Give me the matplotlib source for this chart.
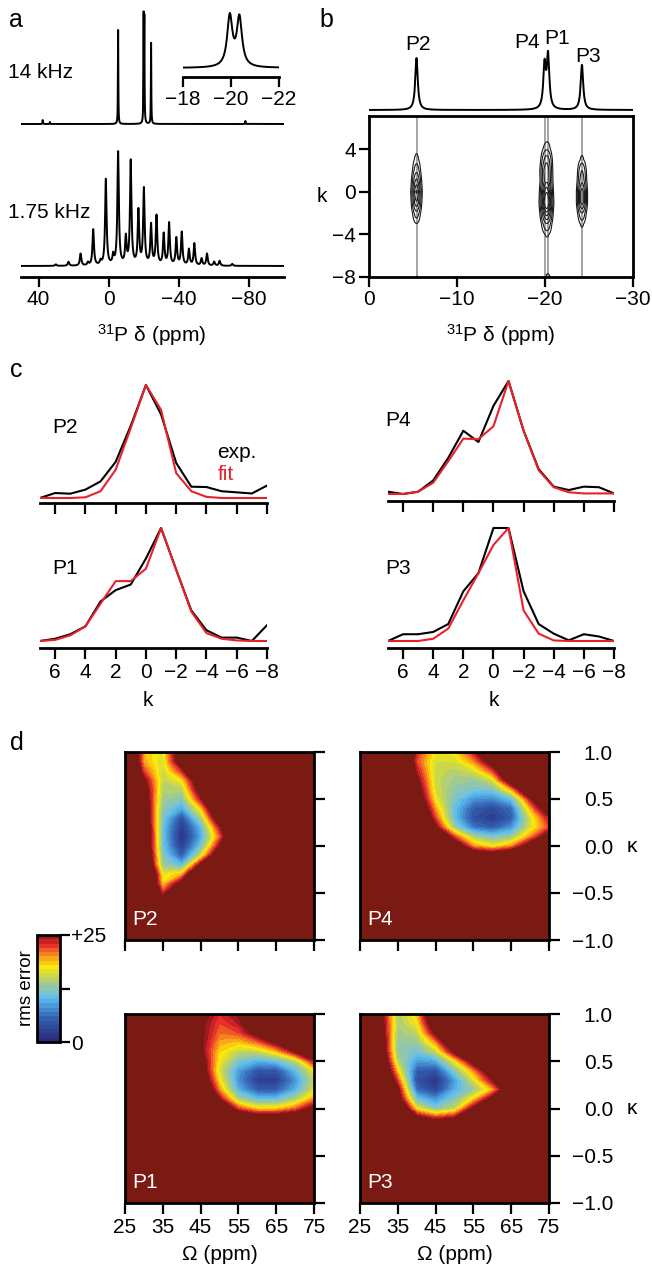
import numpy as np
import matplotlib
matplotlib.use("Agg")
import matplotlib.pyplot as plt
from matplotlib.colors import ListedColormap, BoundaryNorm
from matplotlib.cm import ScalarMappable
from matplotlib.ticker import NullLocator

plt.rcParams['font.family'] = ['Liberation Sans', 'DejaVu Sans']
plt.rcParams['mathtext.fontset'] = 'custom'
plt.rcParams['mathtext.rm'] = 'Liberation Sans'
plt.rcParams['mathtext.it'] = 'Liberation Sans:italic'
plt.rcParams['mathtext.bf'] = 'Liberation Sans:bold'

W, H = 652, 1273
FS = 15

# ---------------------------------------------------------------- data
site_names = ['P2', 'P4', 'P1', 'P3']
site_shift = [-5.4, -19.95, -20.35, -24.2]          # ppm

# 14 kHz MAS spectrum: line positions (ppm) and intensities
fast_peak_ppm = [37.6, 33.5, -5.4, -19.95, -20.35, -24.2, -78.0]
fast_peak_int = [4, 2, 94, 103, 100, 81, 3]

# 1.75 kHz MAS spectrum (centre bands + spinning sidebands)
slow_peak_ppm = [30.1, 22.9, 16.0, 11.8, 8.8, 4.6, 1.6, -2.6, -5.4, -9.8,
                 -12.6, -17.0, -20.1, -24.2, -27.3, -31.4, -34.5, -38.6,
                 -41.7, -45.8, -48.9, -53.0, -56.1, -60.2, -63.3, -70.5]
slow_peak_int = [1.5, 4, 12, 3, 36, 4, 86, 9, 113, 27,
                 104, 54, 76, 40, 49, 31, 42, 27,
                 33, 16, 22, 7, 12, 4, 5, 2]

# projection above the 2D sideband-separation spectrum
proj_int = [52, 43, 52.5, 45]

# sideband order k and normalised sideband intensities
k_order = [7, 6, 5, 4, 3, 2, 1, 0, -1, -2, -3, -4, -5, -6, -7, -8]
P2_exp = [0.0, 0.044, 0.038, 0.074, 0.147, 0.32, 0.64, 1.0, 0.74, 0.31, 0.10, 0.097, 0.06, 0.05, 0.04, 0.11]
P2_fit = [0.0, 0.0, 0.0, 0.006, 0.06, 0.25, 0.62, 1.0, 0.78, 0.22, 0.06, 0.01, 0.0, 0.0, 0.0, 0.0]
P1_exp = [0.0, 0.02, 0.06, 0.13, 0.35, 0.45, 0.50, 0.73, 1.0, 0.63, 0.27, 0.095, 0.03, 0.03, 0.0, 0.14]
P1_fit = [0.0, 0.01, 0.05, 0.13, 0.33, 0.53, 0.53, 0.64, 1.0, 0.63, 0.26, 0.07, 0.02, 0.005, 0.0, 0.0]
P4_exp = [0.02, 0.0, 0.02, 0.12, 0.32, 0.56, 0.46, 0.78, 1.0, 0.56, 0.22, 0.065, 0.035, 0.065, 0.06, 0.005]
P4_fit = [0.0, 0.0, 0.02, 0.10, 0.29, 0.49, 0.485, 0.60, 1.0, 0.56, 0.21, 0.06, 0.015, 0.005, 0.005, 0.005]
P3_exp = [0.0, 0.06, 0.06, 0.08, 0.15, 0.44, 0.60, 1.0, 1.0, 0.44, 0.15, 0.065, 0.006, 0.06, 0.04, 0.0]
P3_fit = [0.0, 0.0, 0.0, 0.02, 0.11, 0.36, 0.60, 0.85, 1.0, 0.27, 0.065, 0.005, 0.0, 0.0, 0.0, 0.0]

# rms error of the CSA fit on an (Omega, kappa) grid
omega = [25, 30, 35, 40, 45, 50, 55, 60, 65, 70, 75]
kappa = [1.0, 0.9, 0.8, 0.7, 0.6, 0.5, 0.4, 0.3, 0.2, 0.1, 0.0,
         -0.1, -0.2, -0.3, -0.4, -0.5, -0.6, -0.7, -0.8, -0.9, -1.0]
rms_P2 = [
    [40, 19, 16.5, 30, 40, 40, 40, 40, 40, 40, 40],
    [40, 19.5, 16, 29, 40, 40, 40, 40, 40, 40, 40],
    [40, 22, 15.5, 23, 40, 40, 40, 40, 40, 40, 40],
    [40, 26, 15, 17.5, 30, 40, 40, 40, 40, 40, 40],
    [40, 28, 14.5, 14.5, 28, 40, 40, 40, 40, 40, 40],
    [40, 29, 13.5, 12, 24, 40, 40, 40, 40, 40, 40],
    [40, 30, 12.5, 9, 18, 34, 40, 40, 40, 40, 40],
    [40, 31, 11.5, 4, 13.5, 30, 40, 40, 40, 40, 40],
    [40, 32, 11, 2, 10, 24, 40, 40, 40, 40, 40],
    [40, 33, 11, 1, 9, 21, 36, 40, 40, 40, 40],
    [40, 33, 11, 2.5, 11, 25, 40, 40, 40, 40, 40],
    [40, 34, 12, 5, 15.5, 31, 40, 40, 40, 40, 40],
    [40, 35, 13, 10, 26, 40, 40, 40, 40, 40, 40],
    [40, 40, 16.5, 19, 36, 40, 40, 40, 40, 40, 40],
    [40, 40, 18, 27, 40, 40, 40, 40, 40, 40, 40],
    [40, 40, 23, 35, 40, 40, 40, 40, 40, 40, 40],
    [40, 40, 29, 38, 40, 40, 40, 40, 40, 40, 40],
    [40, 40, 35, 40, 40, 40, 40, 40, 40, 40, 40],
    [40, 40, 40, 40, 40, 40, 40, 40, 40, 40, 40],
    [40, 40, 40, 40, 40, 40, 40, 40, 40, 40, 40],
    [40, 40, 40, 40, 40, 40, 40, 40, 40, 40, 40],
]
rms_P4 = [
    [40, 40, 40, 23, 17, 17.5, 23.5, 36, 40, 40, 40],
    [40, 40, 40, 22, 16, 16, 20, 28, 40, 40, 40],
    [40, 40, 40, 24, 15.5, 14.5, 16, 22, 34, 40, 40],
    [40, 40, 40, 26, 15.5, 13.5, 13, 16, 29, 40, 40],
    [40, 40, 40, 28, 16, 12.5, 11.5, 11.5, 19, 33, 40],
    [40, 40, 40, 30, 17, 11.5, 8, 7.5, 10.5, 24, 36],
    [40, 40, 40, 33, 19.5, 10.5, 5, 3.5, 6, 19, 30],
    [40, 40, 40, 36, 22, 10.5, 4, 2, 5, 16, 24],
    [40, 40, 40, 40, 26, 13, 6.5, 5, 8, 16, 22],
    [40, 40, 40, 40, 34, 22, 14, 11.5, 13, 20, 28],
    [40, 40, 40, 40, 40, 30, 20, 17, 20, 28, 36],
    [40, 40, 40, 40, 40, 36, 30, 29, 31, 36, 40],
    [40, 40, 40, 40, 40, 40, 40, 40, 40, 40, 40],
    [40, 40, 40, 40, 40, 40, 40, 40, 40, 40, 40],
    [40, 40, 40, 40, 40, 40, 40, 40, 40, 40, 40],
    [40, 40, 40, 40, 40, 40, 40, 40, 40, 40, 40],
    [40, 40, 40, 40, 40, 40, 40, 40, 40, 40, 40],
    [40, 40, 40, 40, 40, 40, 40, 40, 40, 40, 40],
    [40, 40, 40, 40, 40, 40, 40, 40, 40, 40, 40],
    [40, 40, 40, 40, 40, 40, 40, 40, 40, 40, 40],
    [40, 40, 40, 40, 40, 40, 40, 40, 40, 40, 40],
]
rms_P1 = [
    [40, 40, 40, 40, 27, 23, 25.5, 32, 40, 40, 40],
    [40, 40, 40, 40, 26, 22, 24, 30, 38, 40, 40],
    [40, 40, 40, 40, 26, 21, 22, 27, 33, 40, 40],
    [40, 40, 40, 40, 26, 19.5, 18.5, 21, 26, 33, 40],
    [40, 40, 40, 40, 26, 18, 15, 15, 18.5, 25, 30],
    [40, 40, 40, 40, 28, 17, 11.5, 9.5, 10.5, 14.5, 24],
    [40, 40, 40, 40, 29, 16, 8.5, 4.5, 4.5, 10, 17],
    [40, 40, 40, 40, 31, 17.5, 8, 2.5, 2.5, 8, 15],
    [40, 40, 40, 40, 34, 20, 9.5, 5, 5, 9.5, 16],
    [40, 40, 40, 40, 38, 25, 14, 10.5, 10.5, 14, 20],
    [40, 40, 40, 40, 40, 32, 22, 18, 18, 21, 27],
    [40, 40, 40, 40, 40, 40, 32, 29, 29, 31, 35],
    [40, 40, 40, 40, 40, 40, 40, 40, 40, 40, 40],
    [40, 40, 40, 40, 40, 40, 40, 40, 40, 40, 40],
    [40, 40, 40, 40, 40, 40, 40, 40, 40, 40, 40],
    [40, 40, 40, 40, 40, 40, 40, 40, 40, 40, 40],
    [40, 40, 40, 40, 40, 40, 40, 40, 40, 40, 40],
    [40, 40, 40, 40, 40, 40, 40, 40, 40, 40, 40],
    [40, 40, 40, 40, 40, 40, 40, 40, 40, 40, 40],
    [40, 40, 40, 40, 40, 40, 40, 40, 40, 40, 40],
    [40, 40, 40, 40, 40, 40, 40, 40, 40, 40, 40],
]
rms_P3 = [
    [40, 28, 14, 18.5, 33, 40, 40, 40, 40, 40, 40],
    [40, 29, 14, 17, 30, 40, 40, 40, 40, 40, 40],
    [40, 30, 13.5, 15, 26, 38, 40, 40, 40, 40, 40],
    [40, 31, 13, 13, 20, 32, 40, 40, 40, 40, 40],
    [40, 32, 13, 11, 15, 26, 38, 40, 40, 40, 40],
    [40, 34, 14.5, 8.5, 9, 17, 27, 40, 40, 40, 40],
    [40, 36, 18, 5, 4, 12, 20, 30, 40, 40, 40],
    [40, 38, 22, 4, 1.5, 8.5, 16, 25, 40, 40, 40],
    [40, 40, 26, 6, 3, 9.5, 13, 19, 31, 40, 40],
    [40, 40, 28, 11, 8, 12, 18, 27, 38, 40, 40],
    [40, 40, 34, 17, 12, 15, 26, 36, 40, 40, 40],
    [40, 40, 40, 27, 23, 25, 33, 40, 40, 40, 40],
    [40, 40, 40, 34, 32, 35, 40, 40, 40, 40, 40],
    [40, 40, 40, 40, 40, 40, 40, 40, 40, 40, 40],
    [40, 40, 40, 40, 40, 40, 40, 40, 40, 40, 40],
    [40, 40, 40, 40, 40, 40, 40, 40, 40, 40, 40],
    [40, 40, 40, 40, 40, 40, 40, 40, 40, 40, 40],
    [40, 40, 40, 40, 40, 40, 40, 40, 40, 40, 40],
    [40, 40, 40, 40, 40, 40, 40, 40, 40, 40, 40],
    [40, 40, 40, 40, 40, 40, 40, 40, 40, 40, 40],
    [40, 40, 40, 40, 40, 40, 40, 40, 40, 40, 40],
]

rms_colors = ['#2b2c7c', '#2c3586', '#2e3f90', '#2f4a9b', '#3155a6',
              '#3462b2', '#3a72bf', '#4386cc', '#4b9ad9', '#54afe5',
              '#62bde8', '#7ac3cf', '#8fc6b0', '#a1ca90', '#b4d070',
              '#cbd84a', '#e3e02a', '#fbe80f', '#fdca0e', '#f9a819',
              '#f4831f', '#ee5b24', '#e6322a', '#cc2127', '#9e1b1d']
MAROON = '#7b1913'
RED = '#e8202a'

# ---------------------------------------------------------------- helpers
fig = plt.figure(figsize=(W / 100, H / 100), dpi=100)


def pxax(l, t, r, b):
    return fig.add_axes([l / W, 1 - b / H, (r - l) / W, (b - t) / H])


def ftext(x, y, s, **kw):
    kw.setdefault('fontsize', FS)
    kw.setdefault('va', 'center')
    return fig.text(x / W, 1 - y / H, s, **kw)


def style(ax, spines=('bottom',), lw=2.0, length=7):
    for name, sp in ax.spines.items():
        sp.set_visible(name in spines)
        sp.set_linewidth(lw)
    ax.tick_params(direction='out', length=length, width=1.6,
                   labelsize=FS, pad=2.5)


def lorentz(x, pos, amp, hw):
    out = np.zeros_like(x)
    for p, a in zip(pos, amp):
        out += a / (1 + ((x - p) / hw) ** 2)
    return out


def minus(v, fmt='{:g}'):
    return fmt.format(v).replace('-', '\u2212')


# ---------------------------------------------------------------- panel a
ax_a = pxax(21, 5, 284, 277)
style(ax_a)
ppm = np.linspace(-100, 50, 15001)
fast = lorentz(ppm, fast_peak_ppm, fast_peak_int, 0.13)
slow = lorentz(ppm, slow_peak_ppm, slow_peak_int, 0.5)
ax_a.plot(ppm, fast + 153, color='k', lw=1.4)
ax_a.plot(ppm, slow + 11, color='k', lw=1.4)
ax_a.set_xlim(50, -100)
ax_a.set_ylim(0, 272)
ax_a.set_yticks([])
ax_a.set_xticks([40, 0, -40, -80])
ax_a.set_xticklabels([minus(v) for v in [40, 0, -40, -80]])

ftext(9, 20, 'a', fontsize=18)
ftext(8, 72, '14 kHz')
ftext(8, 213, '1.75 kHz')
ftext(152, 335, r'$^{31}$P δ (ppm)', ha='center')

# inset: the P4/P1 doublet at 14 kHz
ax_i = pxax(183, 10, 279, 77)
style(ax_i)
sel = (ppm <= -17.6) & (ppm >= -22.4)
ax_i.plot(ppm[sel], fast[sel], color='k', lw=1.4)
pk = fast[sel].max()
ax_i.set_xlim(-18, -22)
ax_i.set_ylim(-9 / 55 * pk, 58 / 55 * pk)
ax_i.set_yticks([])
ax_i.set_xticks([-18, -20, -22])
ax_i.set_xticklabels([minus(v) for v in [-18, -20, -22]])

# ---------------------------------------------------------------- panel b
ftext(319, 20, 'b', fontsize=18)
ax_p = pxax(369, 20, 633, 116)
ax_p.axis('off')
xb = np.linspace(-30, 0, 6001)
ax_p.plot(xb, lorentz(xb, site_shift, proj_int, 0.17), color='k', lw=1.4)
ax_p.set_xlim(0, -30)
ax_p.set_ylim(-6, 90)
for name, (x, y) in zip(site_names, [(418, 45), (527, 43), (557, 38), (588, 57)]):
    ftext(x, y, name, ha='center')

ax_b = pxax(369, 116, 633, 277)
style(ax_b, spines=('bottom', 'left', 'top', 'right'))
profiles = [P2_exp, P4_exp, P1_exp, P3_exp]
kk = np.array(k_order, dtype=float)[::-1]
field = np.zeros((kk.size, xb.size))
for sh, amp, prof in zip(site_shift, proj_int, profiles):
    line = np.exp(-0.5 * ((xb - sh) / 0.31) ** 2)
    field += amp * np.outer(np.array(prof)[::-1], line)
for sh in site_shift:
    ax_b.axvline(sh, color='#8a8a8a', lw=1.1, zorder=1)
ax_b.contour(xb, kk, field, levels=[5.5, 11, 20, 30, 40, 50, 60],
             colors='#1a1a1a', linewidths=0.8, zorder=2)
ax_b.set_xlim(0, -30)
ax_b.set_ylim(-8, 7.1)
ax_b.set_xticks([0, -10, -20, -30])
ax_b.set_xticklabels([minus(v) for v in [0, -10, -20, -30]])
ax_b.set_yticks([4, 0, -4, -8])
ax_b.set_yticklabels([minus(v) for v in [4, 0, -4, -8]])
ftext(322, 197, 'k', ha='center')
ftext(501, 335, r'$^{31}$P δ (ppm)', ha='center')

# ---------------------------------------------------------------- panel c
ftext(10, 370, 'c', fontsize=18)
kticks = [6, 4, 2, 0, -2, -4, -6, -8]
c_panels = [
    # name, exp, fit, left, right, top, spine, baseline, peak, label xy, labels
    ('P2', P2_exp, P2_fit, 40, 267, 378, 503, 498, 385, (52, 427), False),
    ('P1', P1_exp, P1_fit, 40, 267, 522, 648, 641, 528, (52, 568), True),
    ('P4', P4_exp, P4_fit, 388, 614, 375, 501, 494, 381, (385, 420), False),
    ('P3', P3_exp, P3_fit, 388, 614, 522, 648, 641, 528, (385, 568), True),
]
for name, ex, fit, l, r, t, sp, base, peak, lxy, lab in c_panels:
    ax = pxax(l, t, r, sp)
    style(ax)
    ax.plot(k_order, ex, color='k', lw=1.5)
    ax.plot(k_order, fit, color=RED, lw=1.5)
    unit = base - peak
    ax.set_xlim(7, -8)
    ax.set_ylim(-(sp - base) / unit, (base - t) / unit)
    ax.set_yticks([])
    ax.set_xticks(kticks)
    ax.set_xticklabels([minus(v) for v in kticks])
    ax.tick_params(labelbottom=lab, length=8)
    ftext(lxy[0], lxy[1], name)
ftext(217, 452, 'exp.', color='k')
ftext(218, 475, 'fit', color=RED)
ftext(148, 700, 'k', ha='center')
ftext(494, 700, 'k', ha='center')

# ---------------------------------------------------------------- panel d
ftext(10, 743, 'd', fontsize=18)
levels = np.arange(0, 26, 1)
cmap = ListedColormap(rms_colors)
cmap.set_over(MAROON)
norm = BoundaryNorm(levels, cmap.N)
om = np.array(omega, dtype=float)
ka = np.array(kappa, dtype=float)
kap_ticks = [1.0, 0.5, 0.0, -0.5, -1.0]
om_ticks = [25, 35, 45, 55, 65, 75]
d_panels = [
    ('P2', rms_P2, 125, 752, 314, 940, False, False),
    ('P4', rms_P4, 360, 752, 549, 940, True, False),
    ('P1', rms_P1, 125, 1014, 314, 1203, False, True),
    ('P3', rms_P3, 360, 1014, 549, 1203, True, True),
]
for name, grid, l, t, r, b, ylab, xlab in d_panels:
    ax = pxax(l, t, r, b)
    style(ax, spines=('bottom', 'left', 'top', 'right'), length=8)
    ax.set_facecolor(MAROON)
    ax.contourf(om, ka, np.array(grid, dtype=float), levels=levels,
                cmap=cmap, norm=norm, extend='max')
    ax.set_xlim(25, 75)
    ax.set_ylim(-1, 1)
    ax.set_xticks(om_ticks)
    ax.set_yticks(kap_ticks)
    ax.yaxis.tick_right()
    ax.tick_params(axis='y', left=False, right=True, labelleft=False,
                   labelright=ylab, pad=38)
    ax.set_yticklabels([minus(v, '{:.1f}') for v in kap_ticks], ha='right')
    ax.tick_params(axis='x', labelbottom=xlab, pad=3)
    ax.text(0.04, 0.11, name, transform=ax.transAxes, color='white',
            fontsize=FS, va='center')
    if ylab:
        ftext(632, (t + b) / 2, 'κ', ha='center')
    if xlab:
        ftext((l + r) / 2, 1255, 'Ω (ppm)', ha='center')

cax = pxax(37, 935, 60, 1042)
cb = fig.colorbar(ScalarMappable(norm=norm, cmap=cmap), cax=cax,
                  ticks=[0, 12.5, 25])
cb.set_ticklabels(['0', '', '+25'])
cb.outline.set_linewidth(2)
cax.yaxis.set_minor_locator(NullLocator())
cax.tick_params(which='minor', length=0)
cax.tick_params(direction='out', length=7, width=1.6, labelsize=FS, pad=1)
ftext(27, 988, 'rms error', rotation=90, ha='center', fontsize=13.5)

fig.savefig('out.png', dpi=100)
